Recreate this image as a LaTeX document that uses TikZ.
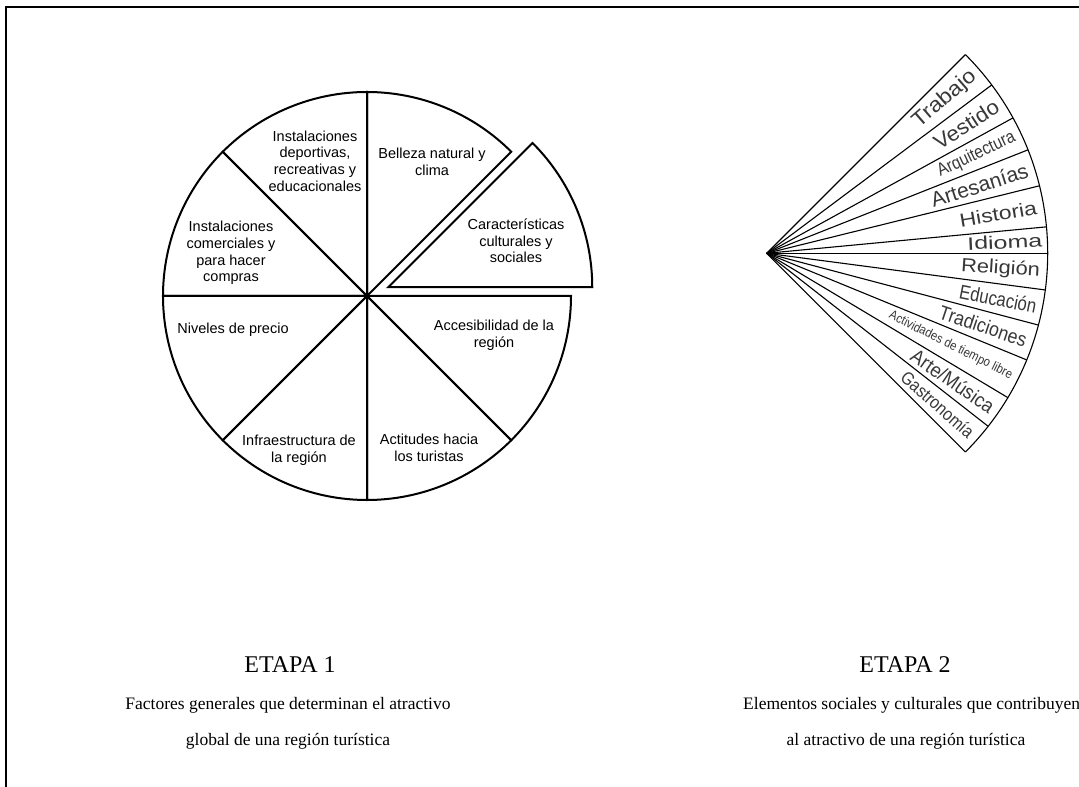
\documentclass[tikz,border=0pt]{standalone}
\usepackage{fontspec}
\setmainfont{Liberation Serif}
\newfontfamily\arialf{Liberation Sans}
\usepackage{graphicx}
\usetikzlibrary{calc}
\newcommand\fanl[3]{\resizebox{#1pt}{\height}{\arialf\fontsize{#2}{#2}\selectfont #3}}
\begin{document}
\begin{tikzpicture}[x=1pt,y=1pt,
  pie/.style={line width=2pt, line join=miter},
  pielab/.style={font=\arialf\fontsize{14.5}{16.7}\selectfont, align=center, inner sep=0},
  ray/.style={line width=1.1pt},
  fanlab/.style={inner sep=0, anchor=east, text=black!78},
  captxt/.style={font=\fontsize{17.5}{20}\selectfont, inner sep=0},
  etapatxt/.style={font=\fontsize{24}{28}\selectfont, inner sep=0}]
\useasboundingbox (0,0) rectangle (1079,787);
\clip (0,0) rectangle (1079,787);
% frame (partially visible)
\draw[line width=2.2pt] (1080,780) -- (6,780) -- (6,-1);

% ---------- pie (ETAPA 1) ----------
\coordinate (C) at (367,491);
\foreach \a in {45,90,...,315}{
  \draw[pie] (C) -- ++(\a:204) arc[start angle=\a, end angle=\a+45, radius=204] -- cycle;
}
\coordinate (E) at ($(C)+(22.5:23)$);
\draw[pie] (E) -- ++(0:204) arc[start angle=0, end angle=45, radius=204] -- cycle;

\node[pielab] (p1) at (315,626) {Instalaciones\\deportivas,\\recreativas y\\educacionales};
\node[pielab] (p2) at (432,625) {Belleza natural y\\clima};
\node[pielab] (p3) at (516,546) {Características\\culturales y\\sociales};
\node[pielab] (p4) at (231,534) {Instalaciones\\comerciales y\\para hacer\\compras};
\node[pielab] (p5) at (233,457) {Niveles de precio};
\node[pielab] (p6) at (494,452) {Accesibilidad de la\\región};
\node[pielab] (p7) at (299,337) {Infraestructura de\\la región};
\node[pielab] (p8) at (429,339) {Actitudes hacia\\los turistas};

% ---------- fan (ETAPA 2) ----------
\coordinate (A) at (766.7,533.7);
\foreach \a in {45,36.8,28.8,21.6,13.9,5.4,0,-7.5,-14.8,-22.3,-30.9,-38,-45}{
  \draw[ray] (A) -- ++(\a:281);
}
\draw[ray] ($(A)+(-45:281)$) arc[start angle=-45, end angle=45, radius=281];

\node[fanlab, rotate=40.9]  (f1)  at ($(A)+(40.9:274)$)  {\fanl{77}{21}{Trabajo}};
\node[fanlab, rotate=32.8]  (f2)  at ($(A)+(32.8:274)$)  {\fanl{73}{21}{Vestido}};
\node[fanlab, rotate=25.2]  (f3)  at ($(A)+(25.2:274)$)  {\fanl{84}{18}{Arquitectura}};
\node[fanlab, rotate=17.75] (f4)  at ($(A)+(17.75:274)$) {\fanl{101}{21}{Artesanías}};
\node[fanlab, rotate=9.65]  (f5)  at ($(A)+(9.65:274)$)  {\fanl{78}{19}{Historia}};
\node[fanlab, rotate=2.7]   (f6)  at ($(A)+(2.7:276)$)   {\fanl{75}{18}{Idioma}};
\node[fanlab, rotate=-3.75] (f7)  at ($(A)+(-3.75:274)$) {\fanl{79}{19}{Religión}};
\node[fanlab, rotate=-11.15](f8)  at ($(A)+(-11.15:275)$){\fanl{78}{20}{Educación}};
\node[fanlab, rotate=-18.55](f9)  at ($(A)+(-18.55:274)$){\fanl{91}{20}{Tradiciones}};
\node[fanlab, rotate=-26.6] (f10) at ($(A)+(-26.6:274)$) {\fanl{136}{13}{Actividades de tiempo libre}};
\node[fanlab, rotate=-34.45](f11) at ($(A)+(-34.45:274)$){\fanl{96}{20}{Arte/Música}};
\node[fanlab, rotate=-41.5] (f12) at ($(A)+(-41.5:274)$) {\fanl{91}{18}{Gastronomía}};

% ---------- captions ----------
\node[etapatxt] (e1) at (290,122) {ETAPA 1};
\node[captxt] (c1) at (288,82) {Factores generales que determinan el atractivo};
\node[captxt] (c2) at (288,46) {global de una región turística};
\node[etapatxt] (e2) at (905,122) {ETAPA 2};
\node[captxt, anchor=west] (c3) at (743,82) {Elementos sociales y culturales que contribuyen};
\node[captxt] (c4) at (906,46) {al atractivo de una región turística};
\end{tikzpicture}
\end{document}
